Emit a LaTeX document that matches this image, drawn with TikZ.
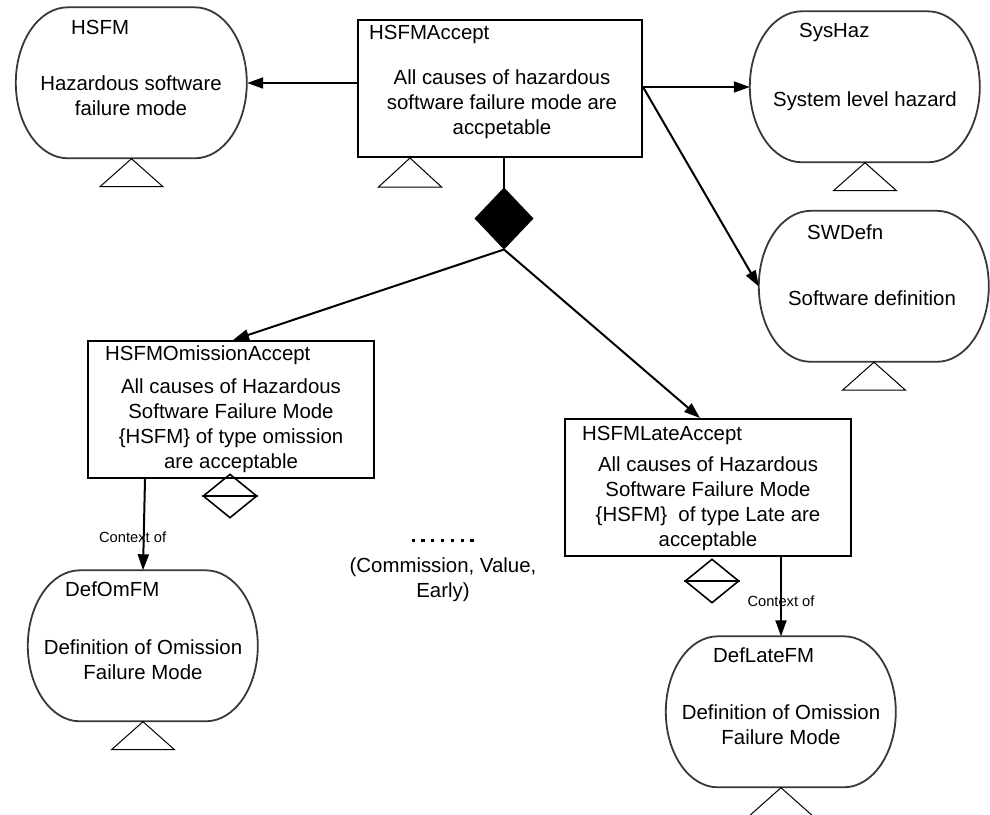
\documentclass[tikz,border=0pt]{standalone}
\usepackage{fontspec}
\setmainfont{Liberation Sans}
\usetikzlibrary{arrows.meta,shapes.geometric}
\newcommand\dgmain{\fontsize{20.4pt}{25pt}\selectfont}
\newcommand\dgsmall{\fontsize{14.7pt}{17pt}\selectfont}

\begin{document}
\begin{tikzpicture}[x=1pt,y=-1pt,
  ctx/.style={rectangle, minimum width=230pt, minimum height=151pt, inner sep=0pt},
  ctxline/.style={draw=black!78, line width=1.8pt},
  goalbox/.style={draw=black, line width=2pt, rectangle,
    minimum height=137pt, inner sep=0pt},
  strat/.style={diamond, draw=black, fill=black, line width=1pt,
    minimum width=58pt, minimum height=61pt, inner sep=0pt},
  inst/.style={diamond, draw=black, line width=1.6pt,
    minimum width=54pt, minimum height=44pt, inner sep=0pt},
  tri/.style={draw=black, line width=1pt, line join=miter},
  arr/.style={draw=black, line width=2pt, -{Triangle[length=16pt,width=11pt]}},
  plain/.style={draw=black, line width=2pt},
  txt/.style={font=\dgmain, align=center, inner sep=0pt},
  idt/.style={font=\dgmain, inner sep=0pt, anchor=west},
  small/.style={font=\dgsmall, inner sep=0pt}
]
\useasboundingbox (0,0) rectangle (990,814);

% context elements: outline with elliptical ends
\newcommand\ctxoutline[2]{%
  \draw[ctxline] (#1.north west) ++(52,0) -- ++(#2-104,0)
    arc[start angle=-90, end angle=90, x radius=52, y radius=75.5]
    -- ++(104-#2,0)
    arc[start angle=90, end angle=270, x radius=52, y radius=75.5] -- cycle;}
\node[ctx, minimum width=231pt] (hsfm)    at (131.5,83)  {};
\node[ctx]                      (syshaz)  at (865,87)    {};
\node[ctx]                      (swdefn)  at (874,286.5) {};
\node[ctx]                      (defom)   at (143,646)   {};
\node[ctx]                      (deflate) at (781,712)   {};
\ctxoutline{hsfm}{231}
\ctxoutline{syshaz}{230}
\ctxoutline{swdefn}{230}
\ctxoutline{defom}{230}
\ctxoutline{deflate}{230}

% goals
\node[goalbox, minimum width=284pt] (accept)   at (500,88.5)  {};
\node[goalbox, minimum width=286pt] (omission) at (231,409.5) {};
\node[goalbox, minimum width=286pt] (late)     at (708,487.5) {};

% strategy and instantiation markers
\node[strat] (strategy) at (504,218.5) {};
\node[inst]  (omit-inst) at (230,496) {};
\node[inst]  (late-inst) at (712,581) {};
\draw[line width=1.6pt] (omit-inst.west) -- (omit-inst.east);
\draw[line width=1.6pt] (late-inst.west) -- (late-inst.east);

% texts
\node[idt] (hsfm-id) at (71,27) {HSFM};
\node[txt] (hsfm-t) at (131,96) {Hazardous software\\failure mode};

\node[idt] (accept-id) at (369,34) {HSFMAccept};
\node[txt] (accept-t) at (502,104) {All causes of hazardous\\software failure mode are\\accpetable};

\node[idt] (syshaz-id) at (799,32) {SysHaz};
\node[txt] (syshaz-t) at (865,101) {System level hazard};

\node[idt] (swdefn-id) at (807,232) {SWDefn};
\node[txt] (swdefn-t) at (872,298) {Software definition};

\node[idt] (omission-id) at (105,355) {HSFMOmissionAccept};
\node[txt] (omission-t) at (231,426) {All causes of Hazardous\\Software Failure Mode\\\{HSFM\} of type omission\\are acceptable};

\node[idt] (late-id) at (582,435) {HSFMLateAccept};
\node[txt] (late-t) at (708,504) {All causes of Hazardous\\Software Failure Mode\\\{HSFM\}\ \ of type Late are\\acceptable};

\node[idt] (defom-id) at (65,589) {DefOmFM};
\node[txt] (defom-t) at (143,660) {Definition of Omission\\Failure Mode};

\node[idt] (deflate-id) at (713,655) {DefLateFM};
\node[txt] (deflate-t) at (781,725) {Definition of Omission\\Failure Mode};

\node[txt] (others) at (443,580) {(Commission, Value,\\Early)};
\foreach \i in {0,...,6} \fill (411.5+\i*9.8,538.5) rectangle ++(3.2,3.2);

% away-goal style triangles
\draw[tri] (hsfm.south) -- ++(-31.5,28) -- ++(63,0) -- cycle;
\draw[tri] ([xshift=-90pt]accept.south) -- ++(-31.5,29) -- ++(63,0) -- cycle;
\draw[tri] (syshaz.south) -- ++(-31.5,28) -- ++(63,0) -- cycle;
\draw[tri] (swdefn.south) -- ++(-31.5,28) -- ++(63,0) -- cycle;
\draw[tri] (defom.south) -- ++(-31.5,28) -- ++(63,0) -- cycle;
\draw[tri] (deflate.south) -- ++(-31.5,28) -- ++(63,0) -- cycle;

% connectors
\draw[arr] (accept.west |- hsfm.east) -- (hsfm.east);
\coordinate (accept-out) at (accept.east |- syshaz.west);
\draw[arr] (accept-out) -- (syshaz.west);
\draw[arr] (accept-out) -- (swdefn.west);
\draw[plain] (strategy.north |- accept.south) -- (strategy.north);
\draw[arr] (strategy.south) -- ([xshift=2pt]omission.north);
\draw[arr] (strategy.south) -- ([xshift=-8pt]late.north);

\draw[arr] ([xshift=58pt]omission.south west) -- (defom.north);
\node[small] (ctx-lbl-1) at (132.6,537) {Context of};
\draw[arr] (late.south -| deflate.north) -- (deflate.north);
\node[small] (ctx-lbl-2) at (781,601) {Context of};
\end{tikzpicture}
\end{document}
